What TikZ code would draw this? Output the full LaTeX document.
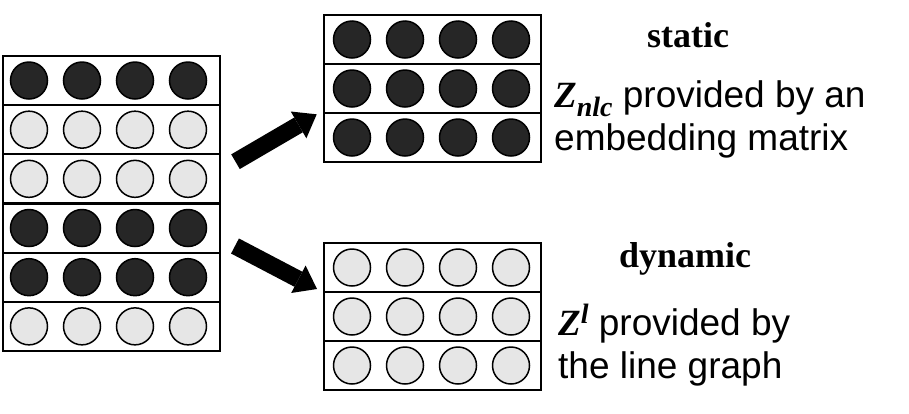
\documentclass[tikz,border=0pt]{standalone}
\usepackage{fontspec}
\setmainfont{Liberation Serif}
\setsansfont{Liberation Sans}
\usetikzlibrary{arrows.meta}
\definecolor{dotdark}{HTML}{262626}
\definecolor{dotlight}{HTML}{E6E6E6}
\tikzset{
  rowbox/.style={draw=black, line width=2pt, minimum width=217pt, minimum height=49pt, inner sep=0pt, anchor=north west},
  dotd/.style={circle, draw=black, line width=1.5pt, fill=dotdark, minimum size=37pt, inner sep=0pt},
  dotl/.style={circle, draw=black, line width=1.5pt, fill=dotlight, minimum size=37pt, inner sep=0pt},
  bigarrow/.style={line width=17pt, -{Triangle[length=21pt 0 0, width=31pt 0 0, line width=0pt 0 0]}},
  headtxt/.style={font=\fontsize{36}{42}\selectfont\bfseries, anchor=base, inner sep=0pt},
  desctxt/.style={font=\sffamily\fontsize{37}{42.5}\selectfont, align=left, anchor=base west, inner sep=0pt},
}
\newcommand{\zbold}{\rmfamily\bfseries\itshape}
\begin{document}
\begin{tikzpicture}[x=1pt, y=-1pt]
\useasboundingbox (0,0) rectangle (909,413);
% left matrix
\foreach \i/\s in {1/dotd,2/dotl,3/dotl,4/dotd,5/dotd,6/dotl}{
  \node[rowbox] (L\i) at (2,{55+(\i-1)*49.17}) {};
  \foreach \j in {1,...,4}{
    \node[\s] (L\i c\j) at ([xshift={(27+(\j-1)*53)*1pt}]L\i.west) {};
  }
}
% static matrix
\foreach \i in {1,2,3}{
  \node[rowbox] (S\i) at (323,{14+(\i-1)*49}) {};
  \foreach \j in {1,...,4}{
    \node[dotd] (S\i c\j) at ([xshift={(29+(\j-1)*53)*1pt}]S\i.west) {};
  }
}
% dynamic matrix
\foreach \i in {1,2,3}{
  \node[rowbox] (D\i) at (323,{242+(\i-1)*49}) {};
  \foreach \j in {1,...,4}{
    \node[dotl] (D\i c\j) at ([xshift={(29+(\j-1)*53)*1pt}]D\i.west) {};
  }
}
% arrows
\coordinate (a1s) at (235.5,161.7);
\coordinate (a1e) at (316.7,114.3);
\coordinate (a2s) at (235,246);
\coordinate (a2e) at (317,289);
\draw[bigarrow] (a1s) -- (a1e);
\draw[bigarrow] (a2s) -- (a2e);
% texts
\node[headtxt] (stat) at (688,47) {static};
\node[desctxt] (statd) at (554,150) {{\zbold Z\raisebox{-9pt}{\fontsize{28}{28}\selectfont nlc}} provided by an\\embedding matrix};
\node[headtxt] (dyn) at (685,267) {dynamic};
\node[desctxt] (dynd) at (558,378) {{\zbold Z\raisebox{12pt}{\fontsize{28}{28}\selectfont l}} provided by\\the line graph};
\end{tikzpicture}
\end{document}
